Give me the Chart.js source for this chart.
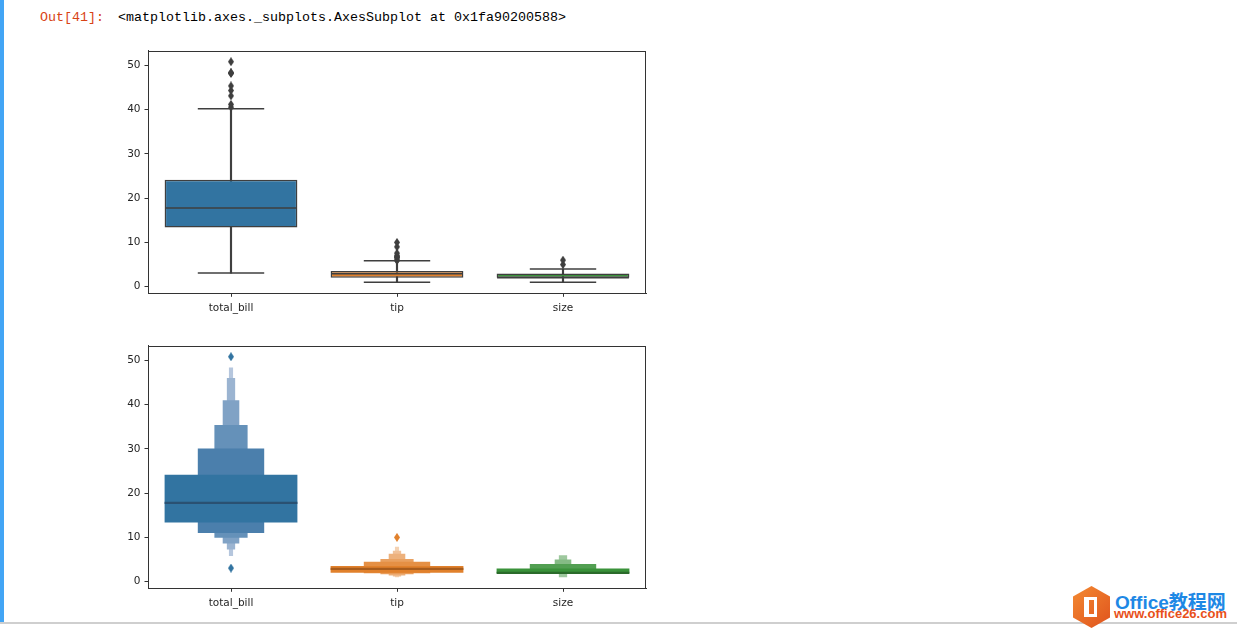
<!DOCTYPE html>
<html>
<head>
<meta charset="utf-8">
<script src="https://cdn.jsdelivr.net/npm/chart.js@4"></script>
<style>
  html, body { margin:0; padding:0; background:#fff; width:1237px; height:636px; overflow:hidden; position:relative; }
  #leftbar { position:absolute; left:0; top:0; width:4px; height:624px; background:#42a5f5; }
  #bottomline { position:absolute; left:0; top:622px; width:1237px; height:2px; background:#cfcfcf; }
  #out { position:absolute; left:40px; top:10px; font-family:"Liberation Mono","DejaVu Sans Mono",monospace; font-size:13.33px; color:#d84315; white-space:pre; }
  #repr { position:absolute; left:118px; top:10px; font-family:"Liberation Mono","DejaVu Sans Mono",monospace; font-size:13.33px; color:#000; white-space:pre; }
  .cw { position:absolute; }
  #hex { position:absolute; left:1073px; top:586px; width:37px; height:42px; background:linear-gradient(135deg,#f38a32,#e0531d);
         clip-path:polygon(50% 0,100% 25%,100% 75%,50% 100%,0 75%,0 25%); }
  #door { position:absolute; left:1084px; top:597px; width:13px; height:20px; border:3px solid #fff; box-sizing:border-box; border-left-width:5px; }
  #wm1 { position:absolute; left:1115px; top:587px; font-family:"Liberation Sans","Noto Sans CJK SC",sans-serif; font-weight:bold; font-size:19px; color:#1e88e5; white-space:nowrap; }
  #wm2 { position:absolute; left:1114px; top:606px; font-family:"Liberation Sans",sans-serif; font-weight:bold; font-size:13px; color:#e8501a; white-space:nowrap; }
</style>
</head>
<body>
<div id="leftbar"></div>
<div id="bottomline"></div>
<div id="out">Out[41]:</div>
<div id="repr">&lt;matplotlib.axes._subplots.AxesSubplot at 0x1fa90200588&gt;</div>
<div class="cw" style="left:100px;top:40px;width:560px;height:280px;"><canvas id="c1"></canvas></div>
<div class="cw" style="left:100px;top:335px;width:560px;height:280px;"><canvas id="c2"></canvas></div>
<div id="hex"></div>
<div id="door"></div>
<div id="wm1">Office教程网</div>
<div id="wm2">www.office26.com</div>
<script>
// ---------------- DATA ----------------
const categories = ['total_bill', 'tip', 'size'];
const yTicks = [0, 10, 20, 30, 40, 50];

// box plot
const boxQ1 = [13.35, 2.0, 2.0];
const boxMedian = [17.795, 2.9, 2.0];
const boxQ3 = [24.1275, 3.5625, 3.0];
const whiskerLow = [3.07, 1.0, 1.0];
const whiskerHigh = [40.17, 5.85, 4.0];
const outliersTotalBill = [40.55, 41.19, 43.11, 44.30, 45.35, 48.17, 48.27, 48.33, 50.81];
const outliersTip = [5.92, 6.0, 6.5, 6.7, 6.73, 7.0, 7.58, 9.0, 10.0];
const outliersSize = [5, 6];

// boxen (letter-value) plot
const lvl1Low = [13.35, 2.0, 2.0], lvl1High = [24.13, 3.56, 3.0];
const lvl2Low = [11.0, 1.9, 2.0],  lvl2High = [30.1, 4.5, 4.0];
const lvl3Low = [9.9, 1.7, null],  lvl3High = [35.4, 5.15, null];
const lvl4Low = [8.6, 1.4, 2.0],   lvl4High = [41.0, 6.3, 5.0];
const lvl5Low = [7.3, 1.2, 1.0],   lvl5High = [46.0, 7.0, 6.0];
const lvl6Low = [5.8, 1.0, null],  lvl6High = [48.4, 7.9, null];
const boxenMedian = [17.795, 2.9, 2.0];
const boxenOutTotalBill = [3.07, 50.81];
const boxenOutTip = [10.0];

// ---------------- STYLE ----------------
const GRAY = '#3f3f3f';
const baseColors = ['#3274a1', '#e1812c', '#3a923a'];
const levelColors = [
  ['#3274a1', '#e1812c', '#3a923a'],
  ['#4b7fac', '#e59045', '#529f52'],
  ['#6591b9', '#e9a161', '#6bad6b'],
  ['#80a2c5', '#edb17c', '#85bb85'],
  ['#9bb4d1', '#f0c198', '#9ec89e'],
  ['#b5c6dd', '#f4d2b3', '#b8d6b8']
];
const medianDark = ['#2a5172', '#a85c1c', '#2b6b2b'];
const levelWidths = [0.8, 0.4, 0.2, 0.1, 0.05, 0.025];

function diamond(color) {
  const w = 6, h = 9;
  const c = document.createElement('canvas');
  c.width = w; c.height = h;
  const g = c.getContext('2d');
  g.fillStyle = color;
  g.beginPath();
  g.moveTo(w / 2, 0); g.lineTo(w, h / 2); g.lineTo(w / 2, h); g.lineTo(0, h / 2); g.closePath();
  g.fill();
  return c;
}

const frame = {
  id: 'frame',
  afterDraw(chart) {
    const a = chart.chartArea, ctx = chart.ctx;
    ctx.save();
    ctx.strokeStyle = '#333';
    ctx.lineWidth = 1;
    ctx.strokeRect(Math.round(a.left) + 0.5, Math.round(a.top) + 0.5, Math.round(a.right - a.left) - 1, Math.round(a.bottom - a.top) - 1);
    ctx.restore();
  }
};

const catW = (ctx) => ctx.chart.scales.x.width / categories.length;

function scales() {
  const font = { family: 'DejaVu Sans', size: 10.5 };
  return {
    x: {
      type: 'category', offset: true,
      grid: { offset: false, drawOnChartArea: false, drawTicks: true, tickLength: 3.5, color: '#333' },
      border: { display: true, color: '#333' },
      ticks: { font, color: '#262626', padding: 5.5, maxRotation: 0 },
      afterFit(s) { s.height = 26.7; }
    },
    y: {
      type: 'linear', min: -1.49, max: 53.3,
      afterBuildTicks(s) { s.ticks = yTicks.map(v => ({ value: v })); },
      grid: { drawOnChartArea: false, drawTicks: true, tickLength: 3.5, color: '#333' },
      border: { display: true, color: '#333' },
      ticks: { font, color: '#262626', padding: 4, callback: v => String(v) },
      afterFit(s) { s.width = 48; }
    }
  };
}

const common = {
  responsive: true, maintainAspectRatio: false, animation: false,
  layout: { padding: { top: 10.7, right: 14, left: 0, bottom: 0 } },
  plugins: { legend: { display: false }, tooltip: { enabled: false } },
};

function pairs(low, high) { return categories.map((c, i) => low[i] == null ? null : [low[i], high[i]]); }
function pts(cat, vals) { return vals.map(v => ({ x: cat, y: v })); }

// ---------------- CHART 1: box plot ----------------
new Chart(document.getElementById('c1'), {
  type: 'bar',
  data: {
    labels: categories,
    datasets: [
      { type: 'bar', data: pairs(whiskerLow, whiskerHigh), grouped: false, barThickness: 1.5, backgroundColor: GRAY, order: 6 },
      { type: 'bar', data: pairs(boxQ1, boxQ3), grouped: false, categoryPercentage: 1, barPercentage: 0.8,
        backgroundColor: baseColors, borderColor: GRAY, borderWidth: 1.5, borderSkipped: false, order: 5 },
      { type: 'line', data: whiskerLow, showLine: false, pointStyle: 'line', borderColor: GRAY, borderWidth: 1.5,
        pointRadius: c => catW(c) * 0.2, order: 4 },
      { type: 'line', data: whiskerHigh, showLine: false, pointStyle: 'line', borderColor: GRAY, borderWidth: 1.5,
        pointRadius: c => catW(c) * 0.2, order: 4 },
      { type: 'line', data: boxMedian, showLine: false, pointStyle: 'line', borderColor: GRAY, borderWidth: 1.5,
        pointRadius: c => catW(c) * 0.4 - 0.5, order: 3 },
      { type: 'line', data: pts('total_bill', outliersTotalBill).concat(pts('tip', outliersTip), pts('size', outliersSize)),
        showLine: false, pointStyle: diamond(GRAY), order: 1 }
    ]
  },
  options: Object.assign({}, common, { scales: scales() }),
  plugins: [frame]
});

// ---------------- CHART 2: boxen plot ----------------
const lows = [lvl1Low, lvl2Low, lvl3Low, lvl4Low, lvl5Low, lvl6Low];
const highs = [lvl1High, lvl2High, lvl3High, lvl4High, lvl5High, lvl6High];
const boxenSets = lows.map((lo, k) => ({
  type: 'bar', data: pairs(lo, highs[k]), grouped: false, categoryPercentage: 1, barPercentage: levelWidths[k],
  backgroundColor: levelColors[k], borderWidth: 0, order: 10 + k
}));
new Chart(document.getElementById('c2'), {
  type: 'bar',
  data: {
    labels: categories,
    datasets: boxenSets.concat([
      { type: 'line', data: boxenMedian, showLine: false, pointStyle: 'line', borderColor: medianDark, borderWidth: 2.2,
        pointRadius: c => catW(c) * 0.4, order: 3 },
      { type: 'line', data: pts('total_bill', boxenOutTotalBill), showLine: false, pointStyle: diamond(baseColors[0]), order: 1 },
      { type: 'line', data: pts('tip', boxenOutTip), showLine: false, pointStyle: diamond(baseColors[1]), order: 1 }
    ])
  },
  options: Object.assign({}, common, { scales: scales() }),
  plugins: [frame]
});
</script>
</body>
</html>
